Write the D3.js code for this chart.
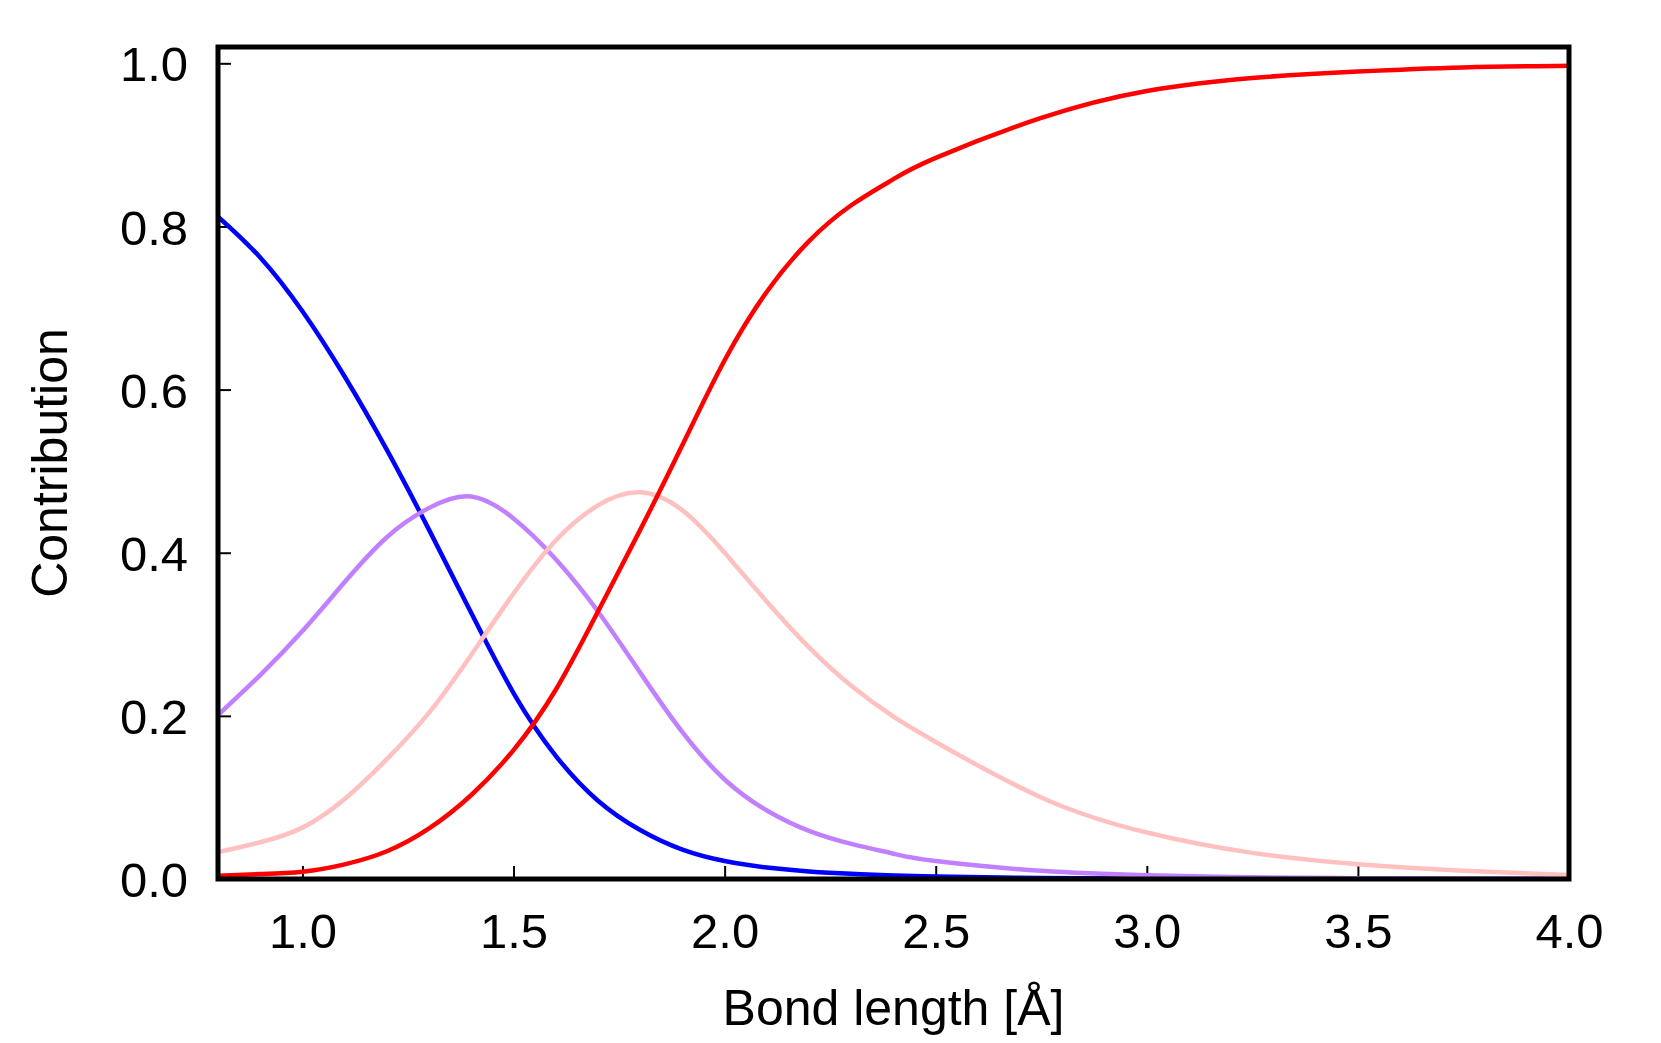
<!DOCTYPE html>
<html>
<head>
<meta charset="utf-8">
<script src="https://cdn.jsdelivr.net/npm/d3@7"></script>
<style>
  body { margin: 0; background: #fff; }
  svg text { font-family: "Liberation Sans", Arial, sans-serif; fill: #000; }
</style>
</head>
<body>
<script>
// bond lengths (x) and the four contribution curves
var bondLength = [0.8, 0.9, 1.0, 1.1, 1.2, 1.3, 1.4, 1.5, 1.6, 1.7, 1.8, 1.9, 2.0,
                  2.1, 2.2, 2.3, 2.4, 2.5, 2.75, 3.0, 3.25, 3.5, 3.75, 4.0];
var blueVals   = [0.812, 0.762, 0.696, 0.616, 0.526, 0.428, 0.326, 0.228, 0.151, 0.096, 0.060, 0.036, 0.022,
                  0.0140, 0.0092, 0.0063, 0.0044, 0.0031, 0.0013, 0.0005, 0.0002, 0.0001, 0.0, 0.0];
var purpleVals = [0.201, 0.250, 0.304, 0.364, 0.419, 0.455, 0.469, 0.442, 0.392, 0.328, 0.253, 0.180, 0.122,
                  0.084, 0.059, 0.043, 0.031, 0.022, 0.010, 0.0045, 0.002, 0.001, 0.0005, 0.0002];
var pinkVals   = [0.033, 0.045, 0.063, 0.098, 0.147, 0.204, 0.275, 0.350, 0.415, 0.458, 0.474, 0.452, 0.400,
                  0.340, 0.284, 0.237, 0.199, 0.168, 0.100, 0.057, 0.032, 0.018, 0.010, 0.005];
var redVals    = [0.004, 0.006, 0.009, 0.018, 0.034, 0.062, 0.103, 0.158, 0.232, 0.328, 0.428, 0.532, 0.636,
                  0.720, 0.782, 0.826, 0.858, 0.884, 0.933, 0.966, 0.982, 0.990, 0.995, 0.997];
var seriesColors = ["#0000ff", "#c080ff", "#ffc0c0", "#ff0000"];
var xTicks = [1.0, 1.5, 2.0, 2.5, 3.0, 3.5, 4.0];
var yTicks = [0.0, 0.2, 0.4, 0.6, 0.8, 1.0];

var W = 1661, H = 1043;
var margin = { left: 218, right: 92, top: 47, bottom: 164 };
var w = W - margin.left - margin.right;
var h = H - margin.top - margin.bottom;

var svg = d3.select("body").append("svg")
  .attr("width", W)
  .attr("height", H);

var scaleX = d3.scaleLinear().domain([0.8, 4.0]).range([0, w]);
var scaleY = d3.scaleLinear().domain([0, 1.02]).range([h, 0]);

var g = svg.append("g")
  .attr("transform", "translate(" + margin.left + " " + margin.top + ")");

g.append("clipPath").attr("id", "plotclip")
  .append("rect").attr("width", w).attr("height", h);

// axes, ticks pointing inward
var xAxis = d3.axisBottom(scaleX).tickValues(xTicks).tickFormat(d3.format(".1f"))
  .tickSizeInner(-13).tickSizeOuter(0).tickPadding(30);
var yAxis = d3.axisLeft(scaleY).tickValues(yTicks).tickFormat(d3.format(".1f"))
  .tickSizeInner(-13).tickSizeOuter(0).tickPadding(30);

var gx = g.append("g").attr("transform", "translate(0 " + h + ")").call(xAxis);
var gy = g.append("g").call(yAxis);
[gx, gy].forEach(function(a) {
  a.select(".domain").remove();
  a.selectAll(".tick line").attr("stroke", "#000").attr("stroke-width", 2);
  a.selectAll(".tick text").style("font-size", "49px").attr("fill", "#000");
});
gx.selectAll(".tick text").attr("dy", null).attr("y", 69);
gy.selectAll(".tick text").attr("dy", "0.36em");

// curves
var series = [blueVals, purpleVals, pinkVals, redVals];
var line = d3.line()
  .x(function(d, i) { return scaleX(bondLength[i]); })
  .y(function(d) { return scaleY(d); })
  .curve(d3.curveNatural);

g.append("g").attr("clip-path", "url(#plotclip)")
  .selectAll("path")
  .data(series)
  .enter()
  .append("path")
  .attr("d", line)
  .attr("fill", "none")
  .attr("stroke", function(d, i) { return seriesColors[i]; })
  .attr("stroke-width", 4.5)
  .attr("stroke-linejoin", "round");

// frame
g.append("rect")
  .attr("width", w).attr("height", h)
  .attr("fill", "none").attr("stroke", "#000").attr("stroke-width", 5);

// axis titles
svg.append("text")
  .attr("x", margin.left + w / 2).attr("y", 1025)
  .attr("text-anchor", "middle")
  .style("font-size", "50px")
  .text("Bond length [Å]");

svg.append("text")
  .attr("transform", "translate(67 " + (margin.top + h / 2) + ") rotate(-90)")
  .attr("text-anchor", "middle")
  .style("font-size", "50px")
  .text("Contribution");
</script>
</body>
</html>
